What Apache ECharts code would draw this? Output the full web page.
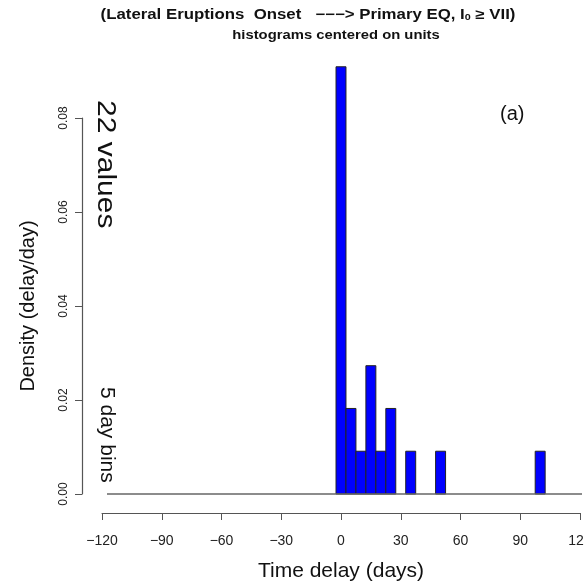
<!DOCTYPE html>
<html><head><meta charset="utf-8">
<script src="https://cdn.jsdelivr.net/npm/echarts@6/dist/echarts.min.js"></script>
<style>html,body{margin:0;padding:0;background:#fff}#c{width:584px;height:584px}</style>
</head><body><div id="c"></div>
<script>
// Histogram data (5-day bins, centered on units), density in delay/day
var binCenters = [0, 5, 10, 15, 20, 25, 35, 50, 100];
var densities = [0.0909, 0.0182, 0.0091, 0.0273, 0.0091, 0.0182, 0.0091, 0.0091, 0.0091];
var binWidth = 5;
var xTicks = [-120, -90, -60, -30, 0, 30, 60, 90, 120];
var yTicks = [0, 0.02, 0.04, 0.06, 0.08];
var baseline = [[-117.5, 0], [130, 0]];

var FONT = '"Liberation Sans", Arial, sans-serif';
var chart = echarts.init(document.getElementById('c'), null, {renderer: 'canvas'});
var barData = binCenters.map(function (c, i) { return [c, densities[i]]; });

chart.setOption({
  animation: false,
  backgroundColor: '#fff',
  grid: {left: 102, right: 4, top: 118, bottom: 90, containLabel: false, outerBoundsMode: 'none'},
  xAxis: {
    type: 'value', min: xTicks[0], max: xTicks[xTicks.length - 1], interval: 30, offset: 19,
    axisLine: {show: true, onZero: false, lineStyle: {color: '#555', width: 1}},
    axisTick: {show: true, length: 7, lineStyle: {color: '#555'}},
    axisLabel: {fontFamily: FONT, fontSize: 14, color: '#222', margin: 21, showMaxLabel: true, showMinLabel: true,
      formatter: function (v) { return String(v).replace('-', '\u2212'); }},
    splitLine: {show: false},
    name: 'Time delay (days)', nameLocation: 'middle', nameGap: 48,
    nameTextStyle: {fontFamily: FONT, fontSize: 21, color: '#111'}
  },
  yAxis: {
    type: 'value', min: yTicks[0], max: yTicks[yTicks.length - 1], interval: 0.02, offset: 20,
    axisLine: {show: true, onZero: false, lineStyle: {color: '#555', width: 1.2}},
    axisTick: {show: true, length: 7, lineStyle: {color: '#555'}},
    axisLabel: {fontFamily: FONT, fontSize: 12, color: '#222', margin: 12, rotate: 90,
      formatter: function (v) { return v.toFixed(2); }},
    splitLine: {show: false},
    name: 'Density (delay/day)', nameLocation: 'middle', nameGap: 44,
    nameTextStyle: {fontFamily: FONT, fontSize: 20, color: '#111'}
  },
  series: [
    {
      type: 'line', data: baseline, symbol: 'none', clip: false, silent: true,
      lineStyle: {color: '#666', width: 1.3}
    },
    {
      type: 'custom', clip: false, data: barData,
      renderItem: function (params, api) {
        var c = api.value(0), d = api.value(1);
        var p0 = api.coord([c - binWidth / 2, d]);
        var p1 = api.coord([c + binWidth / 2, 0]);
        return {
          type: 'rect',
          shape: {x: p0[0], y: p0[1], width: p1[0] - p0[0], height: p1[1] - p0[1]},
          style: {fill: '#0000ff', stroke: '#222', lineWidth: 1}
        };
      }
    }
  ],
  graphic: [
    {type: 'text', x: 308, y: 15, scaleX: 1.2, style: {
      text: '(Lateral Eruptions  Onset   \u2212\u2212\u2212> Primary EQ, {s|I}{sub|0}{s| \u2265 VII)}',
      font: 'bold 14px ' + FONT, fill: '#111', textAlign: 'center', textVerticalAlign: 'middle',
      rich: {s: {font: 'bold 14px ' + FONT, fill: '#111'}, sub: {font: 'bold 9px ' + FONT, fill: '#111', padding: [6, 0, 0, 0]}}
    }},
    {type: 'text', x: 336, y: 35, scaleX: 1.14, style: {text: 'histograms centered on units', font: 'bold 13px ' + FONT, fill: '#111', textAlign: 'center', textVerticalAlign: 'middle'}},
    {type: 'text', x: 117, y: 100, rotation: -Math.PI / 2, scaleX: 1.2, style: {text: '22 values', font: '25px ' + FONT, fill: '#111', textAlign: 'left', textVerticalAlign: 'top'}},
    {type: 'text', x: 117, y: 387, rotation: -Math.PI / 2, style: {text: '5 day bins', font: '21px ' + FONT, fill: '#111', textAlign: 'left', textVerticalAlign: 'top'}},
    {type: 'text', x: 500, y: 104, style: {text: '(a)', font: '20px ' + FONT, fill: '#111'}}
  ]
});
</script></body></html>
